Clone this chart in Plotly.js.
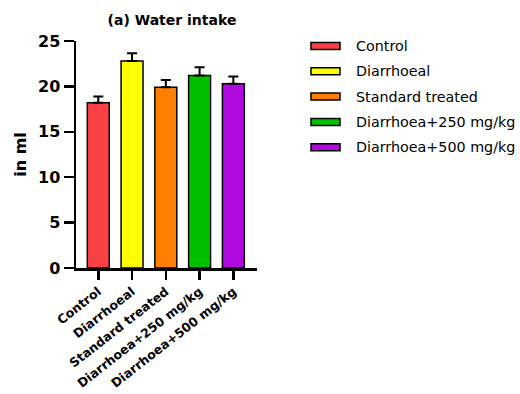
<!DOCTYPE html>
<html>
<head>
<meta charset="utf-8">
<script src="https://cdn.plot.ly/plotly-3.0.1.min.js"></script>
<style>html,body{margin:0;padding:0;background:#fff;}#chart{width:520px;height:394px;}</style>
</head>
<body>
<div id="chart"></div>
<script>
const categories = ["Control", "Diarrhoeal", "Standard treated", "Diarrhoea+250 mg/kg", "Diarrhoea+500 mg/kg"];
const means = [18.2, 22.8, 19.9, 21.2, 20.3];
const errors = [0.7, 0.85, 0.8, 0.9, 0.8];
const colors = ["#F94144", "#FFFF00", "#FF7F00", "#00C000", "#B10AE0"];
const yTicks = [0, 5, 10, 15, 20, 25];

const FONT = "'DejaVu Sans', Arial, sans-serif";

const traces = [{
  type: "bar",
  x: categories,
  y: means,
  width: 0.65,
  marker: {color: colors, line: {color: "#000", width: 1.5}},
  error_y: {type: "data", symmetric: false, array: errors, arrayminus: errors.map(() => 0),
            color: "#000", thickness: 2, width: 5},
  showlegend: false,
  hoverinfo: "x+y"
}];

// custom legend (rectangle swatches), built from the arrays
const shapes = [];
const annotations = [];
const legTop = 46, legStep = 25.3, swX0 = 311, swX1 = 340;
categories.forEach((c, i) => {
  const yc = legTop + i * legStep;
  shapes.push({type: "rect", xref: "paper", yref: "paper",
    x0: (swX0 - 76) / 181, x1: (swX1 - 76) / 181,
    y0: 1 - (yc - 41 + 3.5) / 227, y1: 1 - (yc - 41 - 3.5) / 227,
    fillcolor: colors[i], line: {color: "#000", width: 1.5}});
  annotations.push({xref: "paper", yref: "paper", x: (354 - 76) / 181, y: 1 - (yc - 41) / 227,
    xanchor: "left", yanchor: "middle", text: c, showarrow: false,
    font: {family: FONT, size: 14.3, color: "#000"}});
});

const layout = {
  width: 520, height: 394,
  margin: {l: 76, r: 263, t: 41, b: 126},
  paper_bgcolor: "#fff", plot_bgcolor: "#fff",
  showlegend: false,
  title: {text: "<b>(a) Water intake</b>", x: 172 / 520, xanchor: "center", xref: "container",
          y: 1 - 20 / 394, yref: "container", yanchor: "middle",
          font: {family: FONT, size: 14, color: "#000"}},
  xaxis: {
    type: "category", range: [-0.66, 4.7],
    showline: true, linecolor: "#000", linewidth: 2.5,
    ticks: "outside", ticklen: 9, tickwidth: 2.5, tickcolor: "#000",
    tickangle: -38, tickfont: {family: FONT, size: 12.5, color: "#000", weight: "bold"},
    showgrid: false, zeroline: false, automargin: false, fixedrange: true
  },
  yaxis: {
    range: [0, 25], tickvals: yTicks, ticktext: yTicks.map(String),
    showline: true, linecolor: "#000", linewidth: 2.5,
    ticks: "outside", ticklen: 10, tickwidth: 2.5, tickcolor: "#000",
    tickfont: {family: FONT, size: 16, color: "#000", weight: "bold"},
    title: {text: "<b>in ml</b>", font: {family: FONT, size: 16, color: "#000"}, standoff: 8},
    showgrid: false, zeroline: false, automargin: false, fixedrange: true
  },
  shapes: shapes,
  annotations: annotations
};

Plotly.newPlot("chart", traces, layout, {displayModeBar: false, staticPlot: true});
</script>
</body>
</html>
